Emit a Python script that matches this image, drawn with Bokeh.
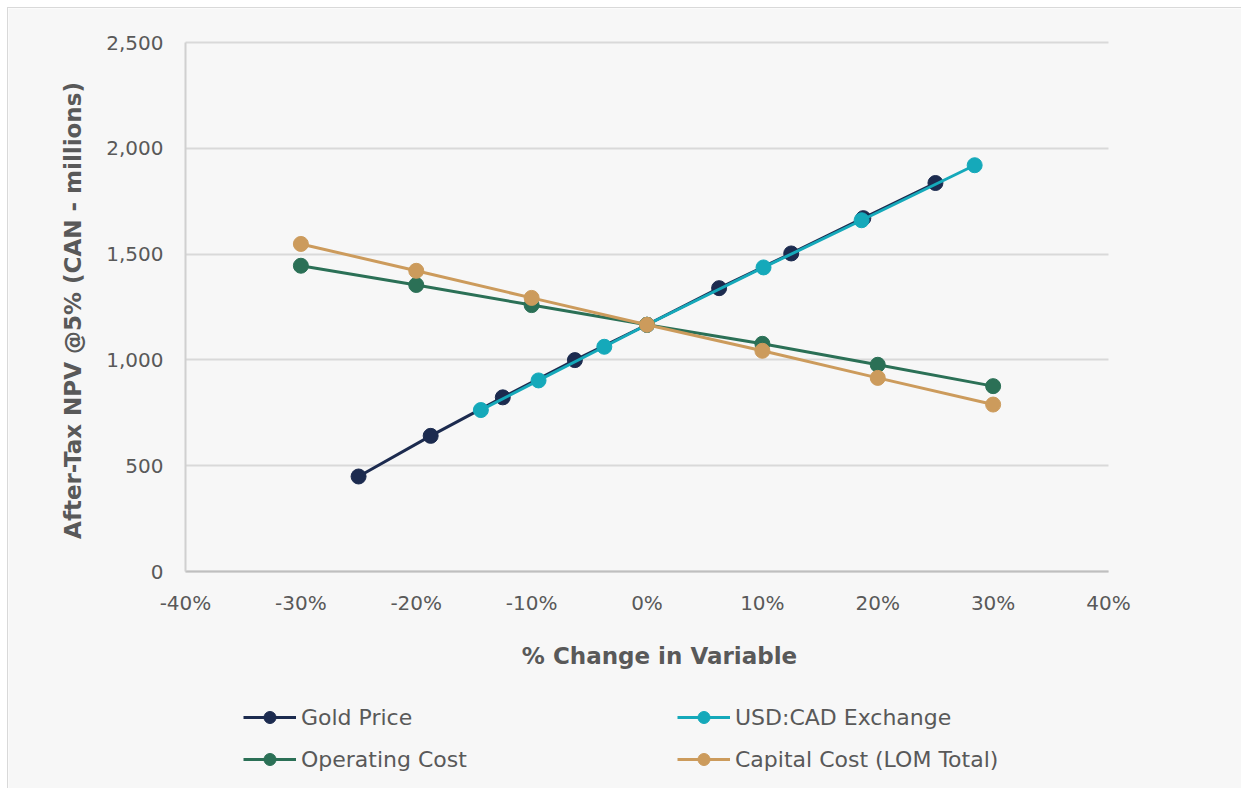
import math
from bokeh.plotting import figure
from bokeh.models import (Range1d, FixedTicker, PrintfTickFormatter, NumeralTickFormatter,
                          Legend, LegendItem, Label, Grid)
from bokeh.embed import file_html
from bokeh.resources import INLINE

# ---- data ----
gold_x = [-25, -18.75, -12.5, -6.25, 0, 6.25, 12.5, 18.75, 25]
gold_y = [449, 641, 823, 999, 1166, 1339, 1503, 1670, 1836]

fx_x = [-14.4, -9.4, -3.7, 0, 10.1, 18.6, 28.4]
fx_y = [763, 903, 1062, 1166, 1437, 1660, 1920]

opex_x = [-30, -20, -10, 0, 10, 20, 30]
opex_y = [1445, 1354, 1259, 1166, 1076, 977, 876]

capex_x = [-30, -20, -10, 0, 10, 20, 30]
capex_y = [1548, 1421, 1293, 1166, 1043, 915, 789]

series_names = ["Gold Price", "USD:CAD Exchange", "Operating Cost", "Capital Cost (LOM Total)"]
series_colors = ["#1c2b4f", "#15a9ba", "#2b7056", "#cc9b5c"]

x_ticks = [-40, -30, -20, -10, 0, 10, 20, 30, 40]
y_ticks = [0, 500, 1000, 1500, 2000, 2500]
x_title = "% Change in Variable"
y_title = "After-Tax NPV @5% (CAN - millions)"

FONT = "DejaVu Sans"
TXT = "#595959"
GRID = "#d9d9d9"

# ---- layout: the frame fills the whole canvas; axes sit at fixed positions inside it ----
W, H = 1234, 781          # canvas; placed at page offset 8 (7px margin + 1px border)
PLOT_L, PLOT_R = 185 - 8, 1108 - 8     # canvas px of -40% / 40%
PLOT_T, PLOT_B = 42 - 8, 571 - 8       # canvas px of 2500 / 0
kx = (PLOT_R - PLOT_L) / (x_ticks[-1] - x_ticks[0])
ky = (PLOT_B - PLOT_T) / (y_ticks[-1] - y_ticks[0])
x_range = Range1d(x_ticks[0] - PLOT_L / kx, x_ticks[-1] + (W - PLOT_R) / kx)
y_range = Range1d(y_ticks[0] - (H - PLOT_B) / ky, y_ticks[-1] + PLOT_T / ky)

p = figure(width=W, height=H, output_backend="svg", toolbar_location=None,
           x_range=x_range, y_range=y_range,
           min_border_left=0, min_border_right=0, min_border_top=0, min_border_bottom=0)
p.styles = {"margin-left": "7px", "margin-top": "7px",
            "border-left": "1px solid #d9d9d9", "border-top": "1px solid #d9d9d9"}
p.background_fill_color = "#f7f7f7"
p.border_fill_color = "#f7f7f7"
p.outline_line_color = None

p.xgrid.visible = False
if "cross_bounds" in Grid.properties():
    p.ygrid.cross_bounds = (x_ticks[0], x_ticks[-1])
    p.ygrid.grid_line_color = GRID
    p.ygrid.grid_line_width = 2
else:
    p.ygrid.visible = False
    p.segment(x0=[x_ticks[0]] * len(y_ticks), x1=[x_ticks[-1]] * len(y_ticks),
              y0=y_ticks, y1=y_ticks, line_color=GRID, line_width=2, level="underlay")

p.xaxis.ticker = FixedTicker(ticks=x_ticks)
p.yaxis.ticker = FixedTicker(ticks=y_ticks)
p.xaxis.formatter = PrintfTickFormatter(format="%d%%")
p.yaxis.formatter = NumeralTickFormatter(format="0,0")
p.xaxis.fixed_location = y_ticks[0]
p.yaxis.fixed_location = x_ticks[0]
p.xaxis.bounds = (x_ticks[0], x_ticks[-1])
p.yaxis.bounds = (y_ticks[0], y_ticks[-1])

for ax in (p.xaxis[0], p.yaxis[0]):
    ax.major_tick_line_color = None
    ax.minor_tick_line_color = None
    ax.major_label_text_font = FONT
    ax.major_label_text_font_size = "20px"
    ax.major_label_text_color = TXT

p.xaxis.major_label_standoff = 13
p.yaxis.major_label_standoff = 16
p.xaxis.axis_line_color = "#bfbfbf"
p.xaxis.axis_line_width = 2
p.yaxis.axis_line_color = "#d0d0d0"
p.yaxis.axis_line_width = 2

# axis titles
p.add_layout(Label(x=651, y=H - 647, x_units="screen", y_units="screen", text=x_title,
                   text_align="center", text_baseline="middle", text_font=FONT,
                   text_font_size="23px", text_font_style="bold", text_color=TXT))
p.add_layout(Label(x=64, y=H - 302, x_units="screen", y_units="screen", text=y_title,
                   angle=math.pi / 2, text_align="center", text_baseline="middle",
                   text_font=FONT, text_font_size="23px", text_font_style="bold",
                   text_color=TXT))

data = [(gold_x, gold_y), (fx_x, fx_y), (opex_x, opex_y), (capex_x, capex_y)]
items = []
for (xs, ys), name, col in zip(data, series_names, series_colors):
    ln = p.line(xs, ys, line_color=col, line_width=3)
    sc = p.scatter(xs, ys, size=15, fill_color=col, line_color=col)
    items.append(LegendItem(label=name, renderers=[ln, sc]))

def make_legend(its, loc):
    return Legend(items=its, location=loc, orientation="vertical",
                  glyph_width=53, glyph_height=30, label_standoff=5, spacing=12,
                  padding=0, margin=0, border_line_color=None, background_fill_alpha=0,
                  label_text_font=FONT, label_text_font_size="22px", label_text_color=TXT)

p.add_layout(make_legend([items[0], items[2]], (235, 15)), "center")
p.add_layout(make_legend([items[1], items[3]], (669, 15)), "center")

open("out.html", "w").write(file_html(p, INLINE))
